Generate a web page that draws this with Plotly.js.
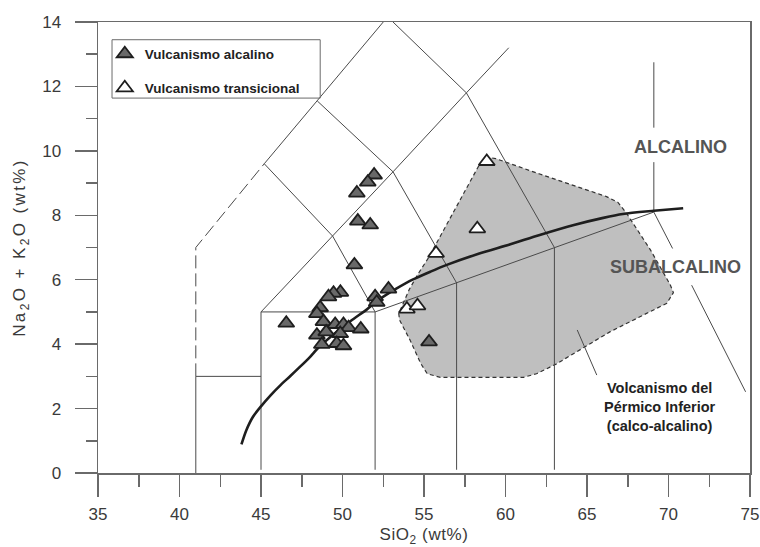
<!DOCTYPE html>
<html><head><meta charset="utf-8">
<script src="https://cdn.plot.ly/plotly-3.0.1.min.js"></script>
<style>html,body{margin:0;padding:0;background:#fff}#chart{width:760px;height:547px}
.ytitle{letter-spacing:2.4px}.xtitle{letter-spacing:0.6px}</style>
</head><body><div id="chart"></div>
<script>
// Vulcanismo alcalino (filled triangles)
const alkSiO2 = [51.94, 51.55, 50.88, 50.94, 51.70, 50.73, 49.87, 49.45, 49.14, 48.63, 48.43, 48.83, 49.55, 50.06, 50.37, 51.12, 48.43, 49.00, 49.86, 48.73, 49.65, 50.06, 46.55, 52.00, 52.82, 52.10, 55.31];
const alkAlk  = [9.25, 9.03, 8.69, 7.82, 7.70, 6.46, 5.61, 5.58, 5.47, 5.13, 4.95, 4.70, 4.61, 4.61, 4.51, 4.47, 4.28, 4.38, 4.33, 3.99, 4.02, 3.95, 4.65, 5.47, 5.71, 5.30, 4.07];
// Vulcanismo transicional (open triangles)
const trSiO2 = [58.85, 58.27, 55.74, 53.95, 54.60];
const trAlk  = [9.67, 7.58, 6.82, 5.09, 5.19];
// Alkaline / subalkaline dividing curve
const divideSiO2 = [43.8, 44.1, 44.5, 45.0, 45.6, 46.2, 46.8, 47.4, 48.0, 48.5, 49.5, 50.5, 51.5, 52.3, 53.3, 54.3, 55.4, 56.4, 58.3, 60.3, 62.1, 64.2, 66.0, 67.2, 69.1, 70.9];
const divideAlk  = [0.89, 1.33, 1.74, 2.07, 2.42, 2.73, 3.01, 3.30, 3.60, 3.88, 4.32, 4.72, 5.08, 5.40, 5.72, 6.00, 6.25, 6.46, 6.80, 7.10, 7.39, 7.70, 7.92, 8.04, 8.14, 8.22];
// Volcanismo del Pérmico Inferior field
const fieldSiO2 = [58.45, 58.9, 59.4, 62.1, 66.2, 66.9, 67.4, 68.9, 70.1, 70.3, 69.9, 66.4, 63.1, 61.9, 61.1, 56.0, 55.2, 54.8, 54.15, 53.5, 53.45, 53.7, 54.1, 54.6, 55.3, 56.0, 56.8, 57.6, 58.45];
const fieldAlk  = [9.62, 9.8, 9.76, 9.28, 8.58, 8.4, 8.08, 6.92, 5.85, 5.6, 5.27, 4.38, 3.38, 3.08, 2.97, 2.97, 3.08, 3.4, 4.12, 4.75, 4.95, 5.25, 5.7, 6.15, 6.7, 7.35, 8.1, 8.85, 9.62];
// TAS field boundaries (segments separated by null)
const tasSiO2 = [41,41,null, 41,45,null, 45,45,null, 45,52,null, 52,52,null, 45,49.4,53.1,57.6,60.2,null, 45.2,48.45,52.5,null, 45.2,49.4,52,null, 48.45,53.1,57,57,null, 53.1,57.6,63,63,null, 52,57,63,69.1,null, 69.1,69.1,null, 69.1,69.1,null, 69.1,70.25,null, 71.42,74.73];
const tasAlk  = [0,3,null, 3,3,null, 0.1,5,null, 5,5,null, 0.1,5,null, 5,7.35,9.35,11.8,13.2,null, 9.6,11.55,14,null, 9.6,7.35,5,null, 11.55,9.35,5.9,0.1,null, 14,11.8,7,0.1,null, 5,5.9,7,8.1,null, 8.1,9.65,null, 10.72,12.75,null, 8.1,6.97,null, 5.83,2.52];
const tasDashSiO2 = [41, 41, 45.2];
const tasDashAlk  = [3, 7, 9.6];
const leaderSiO2 = [64.4, 65.6];
const leaderAlk  = [4.44, 3.04];
const xTickVals = [35, 40, 45, 50, 55, 60, 65, 70, 75];
const yTickVals = [0, 2, 4, 6, 8, 10, 12, 14];

const FONT = 'Liberation Sans, Arial, Helvetica, sans-serif';

const traces = [
  {x: fieldSiO2, y: fieldAlk, mode: 'lines', fill: 'toself', fillcolor: '#bfbfbf',
   line: {color: '#333', width: 1.2, dash: '4px,3px'}, showlegend: false, hoverinfo: 'skip'},
  {x: tasSiO2, y: tasAlk, mode: 'lines', line: {color: '#4a4a4a', width: 1}, connectgaps: false, showlegend: false, hoverinfo: 'skip'},
  {x: tasDashSiO2, y: tasDashAlk, mode: 'lines', line: {color: '#4a4a4a', width: 1, dash: '13px,5px'}, showlegend: false, hoverinfo: 'skip'},
  {x: leaderSiO2, y: leaderAlk, mode: 'lines', line: {color: '#4a4a4a', width: 1}, showlegend: false, hoverinfo: 'skip'},
  {x: divideSiO2, y: divideAlk, mode: 'lines', line: {color: '#1e1e1e', width: 2.6, shape: 'spline', smoothing: 0.8}, showlegend: false, hoverinfo: 'skip'},
  {x: alkSiO2, y: alkAlk, mode: 'markers', name: 'Vulcanismo alcalino', legendgroup: 'a',
   marker: {symbol: 'triangle-up', size: 14, color: '#696969', line: {color: '#1e1e1e', width: 1.8}}},
  {x: trSiO2, y: trAlk, mode: 'markers', name: 'Vulcanismo transicional', legendgroup: 'b',
   marker: {symbol: 'triangle-up', size: 14, color: '#ffffff', line: {color: '#1e1e1e', width: 1.8}}}
];

const axisCommon = {
  showline: true, mirror: true, linecolor: '#6a6a6a', linewidth: 1.5,
  ticks: 'outside', ticklen: 22, tickwidth: 1.5, tickcolor: '#6a6a6a',
  showgrid: false, zeroline: false,
  tickfont: {family: FONT, size: 17, color: '#3a3a3a'}
};

const layout = {
  width: 760, height: 547,
  margin: {l: 98, r: 10, t: 22, b: 74},
  paper_bgcolor: '#fff', plot_bgcolor: '#fff',
  xaxis: Object.assign({}, axisCommon, {
    range: [35, 75], tickvals: xTickVals, ticklabelstandoff: 3,
    minor: {dtick: 2.5, tick0: 35, ticks: 'outside', ticklen: 12, tickwidth: 1.5, tickcolor: '#6a6a6a'},
    title: {text: 'SiO<sub>2</sub> (wt%)', font: {family: FONT, size: 17, color: '#3a3a3a'}, standoff: 11}
  }),
  yaxis: Object.assign({}, axisCommon, {
    range: [0, 14], tickvals: yTickVals, ticklabelstandoff: 10,
    minor: {dtick: 1, tick0: 0, ticks: 'outside', ticklen: 11, tickwidth: 1.5, tickcolor: '#6a6a6a'},
    title: {text: 'Na<sub>2</sub>O + K<sub>2</sub>O (wt%)', font: {family: FONT, size: 17, color: '#3a3a3a'}, standoff: 12}
  }),
  showlegend: true,
  legend: {x: 0.0104, xanchor: 'left', y: 0.9635, yanchor: 'top', traceorder: 'grouped', tracegroupgap: 13.5,
    bgcolor: 'rgba(0,0,0,0)', borderwidth: 0,
    font: {family: FONT, size: 13.5, color: '#222', weight: 'bold'}},
  shapes: [
    {type: 'rect', xref: 'paper', yref: 'paper', x0: 0.0215, x1: 0.3408, y0: 0.8313, y1: 0.9607,
     line: {color: '#6a6a6a', width: 1}, fillcolor: 'rgba(0,0,0,0)', layer: 'above'}
  ],
  annotations: [
    {x: 70.73, y: 10.13, text: 'ALCALINO', showarrow: false, font: {family: FONT, size: 18, color: '#555', weight: 'bold'}},
    {x: 70.45, y: 6.40, text: 'SUBALCALINO', showarrow: false, font: {family: FONT, size: 18, color: '#555', weight: 'bold'}},
    {x: 69.45, y: 2.05, text: 'Volcanismo del<br>Pérmico Inferior<br>(calco-alcalino)', showarrow: false, align: 'center',
     font: {family: FONT, size: 14.5, color: '#222', weight: 'bold'}}
  ]
};

Plotly.newPlot('chart', traces, layout, {displayModeBar: false, staticPlot: true});
</script>
</body></html>
